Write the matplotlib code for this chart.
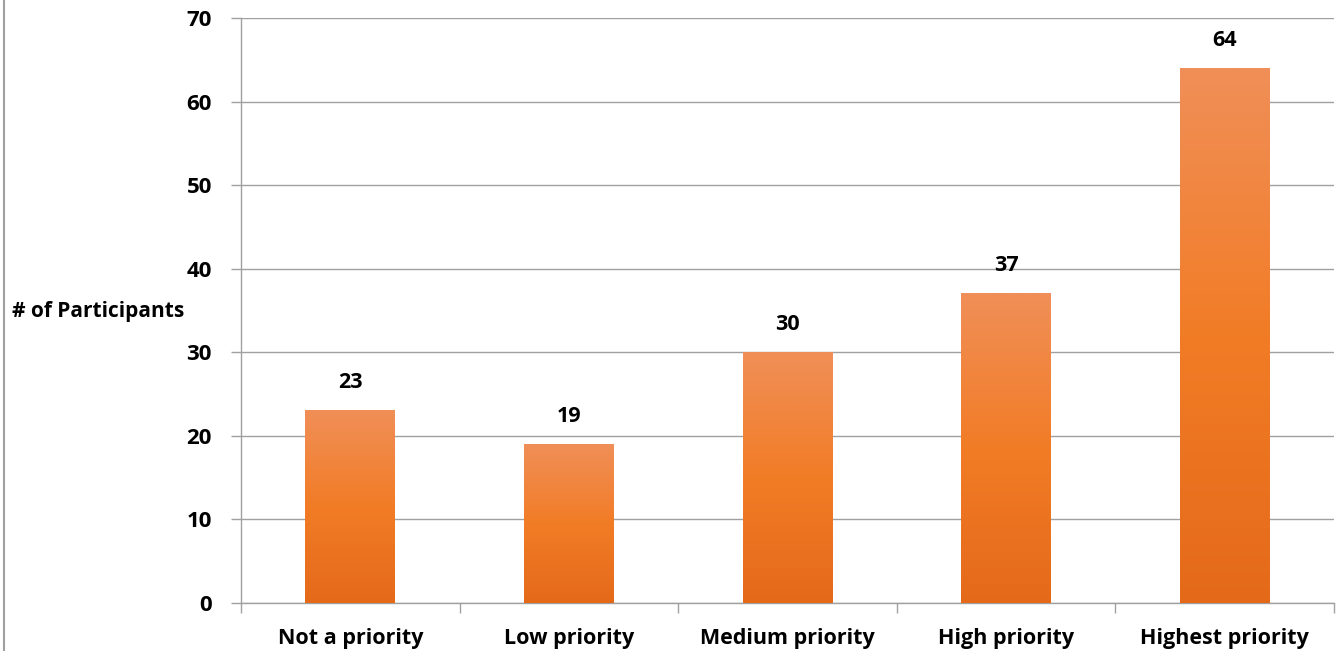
import numpy as np
import matplotlib
matplotlib.use('Agg')
import matplotlib.pyplot as plt
from matplotlib.colors import LinearSegmentedColormap
from matplotlib.lines import Line2D

categories = ['Not a priority', 'Low priority', 'Medium priority', 'High priority', 'Highest priority']
participants = [23, 19, 30, 37, 64]
y_ticks = [0, 10, 20, 30, 40, 50, 60, 70]

plt.rcParams['font.family'] = ['Open Sans', 'DejaVu Sans']
plt.rcParams['font.weight'] = 'bold'

fig = plt.figure(figsize=(13.41, 6.51), dpi=100)
ax = fig.add_axes([241 / 1341, 48 / 651, 1093 / 1341, 585 / 651])

grad = LinearSegmentedColormap.from_list('bar', ['#E46A1A', '#F27C26', '#F08F58'])
x = np.arange(len(categories))
bars = ax.bar(x, participants, width=0.41, color='none', zorder=3)
g = np.linspace(0, 1, 256).reshape(-1, 1)
for b, v in zip(bars, participants):
    x0 = b.get_x()
    ax.imshow(g, cmap=grad, origin='lower', aspect='auto', zorder=3,
              extent=[x0, x0 + b.get_width(), 0, v])
    ax.text(b.get_x() + b.get_width() / 2, v + 2.1, str(v), ha='center', va='bottom',
            fontsize=15.5, fontweight='bold', color='black')

ax.set_xlim(-0.5, len(categories) - 0.5)
ax.set_ylim(0, 70)
ax.set_yticks(y_ticks)
ax.set_yticklabels([str(t) for t in y_ticks], fontsize=16, fontweight='bold')
ax.yaxis.grid(True, color='#A0A0A0', linewidth=1.0, zorder=0)
ax.set_axisbelow(True)

ax.set_xticks(x)
ax.set_xticklabels(categories, fontsize=15.5, fontweight='bold')
ax.tick_params(axis='x', length=0, pad=18)
ax.set_xticks(np.arange(len(categories) + 1) - 0.5, minor=True)
ax.tick_params(axis='x', which='minor', length=7, color='#A0A0A0', width=1)
ax.tick_params(axis='y', length=7, color='#A0A0A0', width=1, pad=14)

for s in ['top', 'right']:
    ax.spines[s].set_visible(False)
for s in ['left', 'bottom']:
    ax.spines[s].set_color('#A0A0A0')
    ax.spines[s].set_linewidth(1.0)

fig.text(12 / 1341, 1 - 312 / 651, '# of Participants', ha='left', va='center',
         fontsize=15, fontweight='bold')
fig.add_artist(Line2D([3.5 / 1341, 3.5 / 1341], [0, 1], color='#A0A0A0', linewidth=1.5,
                      transform=fig.transFigure))

fig.savefig('out.png', dpi=100)
